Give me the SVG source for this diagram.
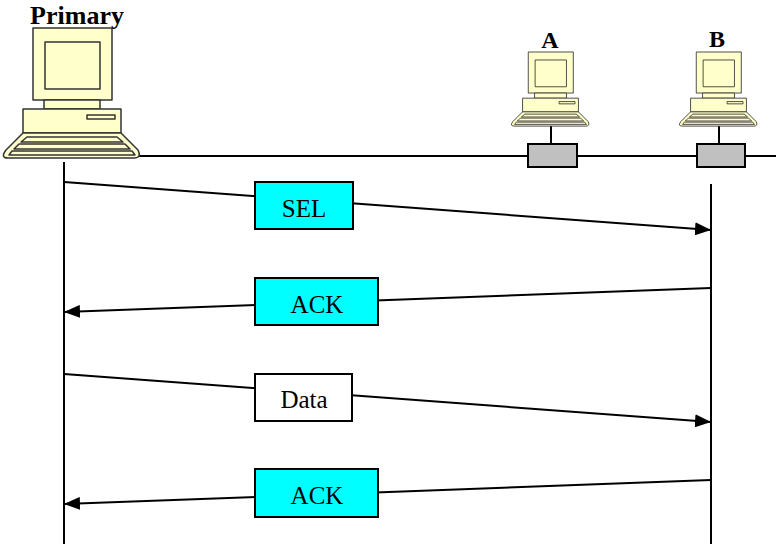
<svg xmlns="http://www.w3.org/2000/svg" width="776" height="544" viewBox="0 0 776 544">
  <style>
    .lbl { font-family: "Liberation Serif", "Times New Roman", serif; font-weight: bold; fill: #000; text-anchor: middle; }
    .msg { font-family: "Liberation Serif", "Times New Roman", serif; font-size: 25px; fill: #000; text-anchor: middle; }
    .box { stroke: #000; stroke-width: 2; }
    .cyan { fill: #00FFFF; }
    .white { fill: #FFFFFF; }
    .wire { stroke: #000; stroke-width: 2; fill: none; }
    .tap { fill: #C0C0C0; stroke: #000; stroke-width: 2; }
    .pc { fill: #FFFFCC; stroke: #333; stroke-width: 1.5; stroke-linejoin: round; }
  </style>
  <defs>
    <marker id="arrow" viewBox="0 0 16 13" refX="16" refY="6.5" markerWidth="16" markerHeight="13" markerUnits="userSpaceOnUse" orient="auto">
      <path d="M0,0 L16,6.5 L0,13 Z" fill="#000"/>
    </marker>
    <!-- desktop computer, origin at top centre of the monitor -->
    <g id="computer">
      <rect class="pc" x="-39" y="0" width="79" height="72"/>
      <rect class="pc" x="-27" y="14" width="55" height="47"/>
      <rect class="pc" x="-28" y="72" width="56" height="9"/>
      <rect class="pc" x="-49" y="81" width="98" height="24"/>
      <rect class="pc" x="15" y="87" width="28" height="4"/>
      <path class="pc" d="M-49,105 L49,105 L66,122 Q70,130 62,130 L-64,130 Q-72,130 -66,122 Z"/>
      <path class="pc" d="M-45,109 L45,109 L51,114 L-51,114 Z"/>
      <path class="pc" d="M-53,116 L53,116 L58,121 L-58,121 Z"/>
      <path class="pc" d="M-60,123 L60,123 L63,127 L-63,127 Z"/>
    </g>
  </defs>

  <!-- network bus -->
  <g id="bus">
    <line class="wire" x1="136" y1="156" x2="776" y2="156"/>
    <line class="wire" x1="551" y1="126" x2="551" y2="144"/>
    <line class="wire" x1="719" y1="126" x2="719" y2="144"/>
    <rect class="tap" x="528" y="144" width="49" height="23"/>
    <rect class="tap" x="697" y="144" width="48" height="23"/>
  </g>

  <g id="primary">
    <text class="lbl" x="77" y="24" font-size="26">Primary</text>
    <use href="#computer" transform="translate(72,28)"/>
  </g>

  <g id="station-a">
    <text class="lbl" x="550" y="48" font-size="24">A</text>
    <use href="#computer" transform="translate(550.5,52) scale(0.57)"/>
  </g>

  <g id="station-b">
    <text class="lbl" x="717" y="47" font-size="24">B</text>
    <use href="#computer" transform="translate(718.5,52) scale(0.57)"/>
  </g>

  <!-- lifelines and message arrows -->
  <g id="connectors">
    <line class="wire" x1="64" y1="162" x2="64" y2="544"/>
    <line class="wire" x1="711" y1="184" x2="711" y2="544"/>
    <line class="wire" x1="64" y1="182" x2="711" y2="230" marker-end="url(#arrow)"/>
    <line class="wire" x1="711" y1="288" x2="64" y2="312" marker-end="url(#arrow)"/>
    <line class="wire" x1="64" y1="374" x2="711" y2="422" marker-end="url(#arrow)"/>
    <line class="wire" x1="711" y1="480" x2="64" y2="504" marker-end="url(#arrow)"/>
  </g>

  <g id="msg-sel">
    <rect class="box cyan" x="255" y="182" width="98" height="47"/>
    <text class="msg" x="304" y="217">SEL</text>
  </g>
  <g id="msg-ack1">
    <rect class="box cyan" x="255" y="278" width="123" height="47"/>
    <text class="msg" x="317" y="313">ACK</text>
  </g>
  <g id="msg-data">
    <rect class="box white" x="255" y="374" width="97" height="47"/>
    <text class="msg" x="304" y="408">Data</text>
  </g>
  <g id="msg-ack2">
    <rect class="box cyan" x="255" y="469" width="123" height="48"/>
    <text class="msg" x="317" y="504">ACK</text>
  </g>
</svg>
